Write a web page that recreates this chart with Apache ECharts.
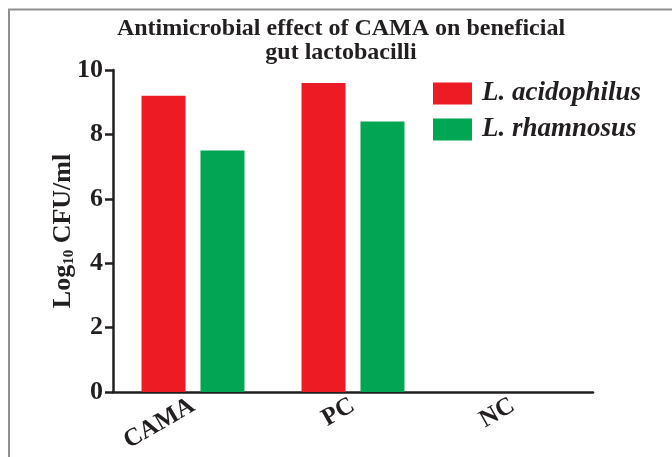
<!DOCTYPE html>
<html>
<head>
<meta charset="utf-8">
<script src="https://cdn.jsdelivr.net/npm/echarts@6/dist/echarts.min.js"></script>
<style>
html,body{margin:0;padding:0;background:#fff;}
#c{width:672px;height:457px;}
</style>
</head>
<body>
<div id="c"></div>
<script>
const categories = ['CAMA', 'PC', 'NC'];
const seriesNames = ['L. acidophilus', 'L. rhamnosus'];
const acidophilus = [9.2, 9.6, 0];
const rhamnosus = [7.5, 8.4, 0];
const yTicks = [0, 2, 4, 6, 8, 10];

const ink = '#231f20';
const serif = '"Liberation Serif", "Times New Roman", serif';

const chart = echarts.init(document.getElementById('c'), null, {renderer: 'canvas'});
chart.setOption({
  backgroundColor: '#ffffff',
  animation: false,
  graphic: [{
    type: 'rect',
    shape: {x: 9, y: 9.5, width: 800, height: 600},
    style: {fill: 'none', stroke: '#8f8f8f', lineWidth: 2},
    silent: true
  }],
  title: {
    text: 'Antimicrobial effect of CAMA on beneficial\ngut lactobacilli',
    left: 336,
    textAlign: 'center',
    top: 12,
    textStyle: {fontFamily: serif, fontWeight: 'bold', fontSize: 24, color: ink, lineHeight: 24}
  },
  legend: {
    orient: 'vertical',
    left: 433,
    top: 80,
    padding: 0,
    itemWidth: 39,
    itemHeight: 22,
    itemGap: 9,
    icon: 'rect',
    textStyle: {fontFamily: serif, fontStyle: 'italic', fontWeight: 'bold', fontSize: 27, color: ink, padding: [0, 0, 0, 5]},
    data: seriesNames
  },
  grid: {left: 113, right: 79, top: 70, bottom: 65, containLabel: false},
  xAxis: {
    type: 'category',
    data: categories,
    axisLine: {lineStyle: {color: ink, width: 2.5}},
    axisTick: {alignWithLabel: true, length: 9, lineStyle: {color: ink, width: 2.5}},
    axisLabel: {rotate: 30, margin: 12, fontFamily: serif, fontWeight: 'bold', fontSize: 25, color: ink}
  },
  yAxis: {
    type: 'value',
    min: 0, max: 10, interval: 2,
    name: '{a|Log}{b|10}{a| CFU/ml}',
    nameLocation: 'middle',
    nameGap: 36,
    nameMoveOverlap: false,
    nameRotate: 90,
    nameTextStyle: {
      rich: {
        a: {fontFamily: serif, fontWeight: 'bold', fontSize: 26, color: ink, lineHeight: 28},
        b: {fontFamily: serif, fontWeight: 'bold', fontSize: 15, color: ink, lineHeight: 28, verticalAlign: 'bottom', padding: [9, 0, 0, 0]}
      }
    },
    splitLine: {show: false},
    axisLine: {show: true, lineStyle: {color: ink, width: 2.5}},
    axisTick: {show: true, length: 8, lineStyle: {color: ink, width: 2.5}},
    axisLabel: {margin: 10, fontFamily: serif, fontWeight: 'bold', fontSize: 26, color: ink,
      formatter: v => yTicks.includes(v) ? String(v) : ''}
  },
  series: [
    {name: seriesNames[0], type: 'bar', data: acidophilus, barWidth: 44, barGap: '34%', itemStyle: {color: '#ed1c24'}},
    {name: seriesNames[1], type: 'bar', data: rhamnosus, barWidth: 44, itemStyle: {color: '#00a651'}}
  ]
});
</script>
</body>
</html>
